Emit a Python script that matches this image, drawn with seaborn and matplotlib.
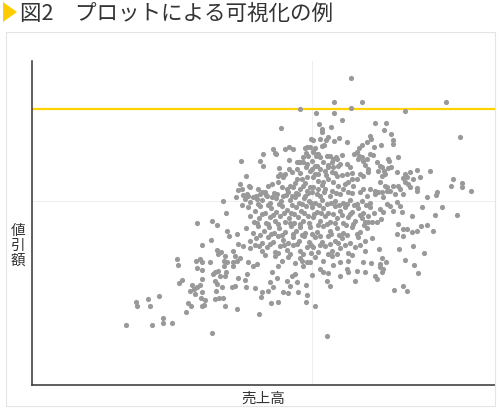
import matplotlib
matplotlib.use("Agg")
import matplotlib.pyplot as plt
from matplotlib.patches import Polygon, Rectangle
import pandas as pd
import seaborn as sns

# (sales, discount) pairs, grouped by region of the cloud
top_pts = [
    (351, 321), (334, 297), (362, 297), (446, 297), (300, 290), (316, 286), (334, 286), (351, 291),
    (405, 288), (281, 271), (342, 279), (319, 275), (322, 270), (322, 267), (331, 272), (375, 276),
    (386, 276), (384, 269), (391, 265), (460, 262), (311, 260), (313, 259), (320, 260), (326, 259),
    (328, 262), (334, 258), (339, 261), (347, 257), (370, 263), (371, 260), (367, 257), (362, 254),
    (359, 251), (374, 252), (381, 254), (393, 259), (393, 255),
]
upper_left_pts = [
    (241, 238), (263, 245), (260, 238), (263, 233), (273, 250), (276, 245), (285, 250), (289, 252),
    (293, 250), (275, 246), (246, 223), (289, 239), (279, 231), (280, 225), (285, 225), (289, 230),
    (297, 230), (240, 215), (249, 213), (238, 209), (236, 202), (243, 204), (248, 203), (253, 202),
    (257, 200), (223, 198), (242, 194), (226, 186), (197, 176), (212, 178), (217, 174),
    (297, 237), (300, 237), (303, 237), (250, 212), (242, 210), (247, 205), (258, 210), (260, 205),
    (265, 207), (268, 213), (272, 215), (278, 217), (282, 212), (287, 210), (290, 213), (293, 212),
    (300, 210), (303, 213), (307, 208), (310, 212), (278, 223), (283, 222), (297, 220), (302, 220),
    (307, 222), (318, 225), (310, 228), (277, 205), (283, 203), (292, 203), (298, 205), (305, 203),
    (317, 205), (267, 203), (272, 202),
]
upper_mid_pts = [
    (305, 251), (310, 252), (313, 247), (316, 243), (322, 253), (324, 254), (303, 242), (308, 243),
    (299, 237), (307, 235), (312, 238), (317, 233), (330, 243), (333, 240), (336, 242), (342, 244),
    (323, 237), (328, 234), (333, 232), (338, 233), (354, 245), (359, 243), (363, 238), (365, 234),
    (368, 230), (373, 244), (377, 237), (382, 232), (384, 228), (389, 238), (391, 232), (357, 247),
    (370, 245), (367, 240), (368, 227), (362, 242), (358, 240), (380, 233), (378, 228), (382, 223),
    (385, 225), (388, 231), (388, 240), (347, 235), (350, 232), (347, 225), (352, 220), (348, 217),
    (353, 213), (357, 220), (360, 225), (363, 223), (337, 240), (332, 237), (340, 235), (313, 248),
    (317, 245), (320, 242), (327, 243), (315, 233), (320, 230), (325, 228), (328, 232), (332, 227),
    (337, 223), (313, 222), (318, 218), (323, 217), (328, 220), (333, 217), (338, 213), (343, 210),
    (332, 208), (325, 210), (318, 210), (313, 212), (312, 207), (320, 203), (330, 203), (340, 205),
    (348, 207), (363, 210), (370, 210), (367, 203), (375, 205), (382, 207), (306, 246), (307, 252),
    (315, 251), (318, 245), (306, 232), (312, 230),
]
right_pts = [
    (398, 242), (397, 227), (405, 225), (410, 227), (417, 229), (420, 222), (430, 228), (407, 222),
    (413, 220), (453, 220), (451, 213), (462, 216), (462, 212), (471, 208), (437, 207), (436, 204),
    (427, 202), (417, 211), (417, 208), (410, 212), (398, 213), (393, 213), (390, 208), (395, 205),
    (403, 205), (380, 217), (387, 212), (378, 207), (383, 202), (375, 208), (397, 197), (400, 193),
    (402, 187), (393, 188), (390, 193), (387, 195), (422, 192), (412, 183), (435, 184), (442, 192),
    (457, 184), (421, 173), (427, 174), (407, 170), (380, 190), (383, 187), (381, 180), (377, 177),
    (372, 177), (368, 183), (365, 177), (398, 175), (403, 221), (408, 215), (405, 217), (400, 210),
    (385, 213), (387, 208), (412, 167), (417, 168), (433, 168), (397, 165), (403, 163), (403, 170),
    (413, 153), (424, 146), (405, 139), (414, 134), (418, 126), (399, 150), (394, 109), (403, 113),
    (407, 108),
]
lower_mid_pts = [
    (379, 150), (382, 141), (386, 137), (380, 135), (380, 132), (383, 130), (382, 127), (375, 123),
    (377, 120), (363, 137), (371, 136), (365, 127), (357, 128), (355, 118), (340, 123), (348, 138),
    (347, 130), (348, 127), (333, 134), (328, 126), (327, 118), (330, 113), (320, 130), (323, 127),
    (312, 124), (306, 114), (307, 104), (306, 97), (315, 93), (327, 63), (297, 117), (298, 107),
    (290, 113), (288, 106), (283, 107), (295, 125), (292, 123), (287, 118), (303, 133), (302, 138),
    (310, 137),
]
left_tail_pts = [
    (227, 168), (229, 163), (237, 165), (238, 155), (243, 153), (211, 159), (202, 154), (217, 149),
    (218, 145), (221, 147), (225, 143), (224, 138), (227, 137), (233, 148), (235, 143), (237, 138),
    (240, 141), (177, 140), (178, 134), (196, 138), (200, 140), (202, 137), (197, 131), (202, 129),
    (210, 137), (215, 127), (213, 125), (218, 128), (220, 123), (225, 123), (226, 127), (224, 133),
    (233, 133), (233, 137), (248, 137), (253, 133), (257, 135), (247, 125), (238, 121), (245, 119),
    (202, 120), (215, 118), (217, 115), (182, 119), (179, 116), (192, 114), (194, 110), (197, 112),
    (200, 114), (216, 108), (222, 112), (232, 112), (235, 113), (246, 112), (255, 111), (262, 107),
    (268, 108), (261, 102), (190, 108), (195, 105), (202, 107), (201, 101), (205, 99), (215, 100),
    (219, 101), (223, 101), (159, 103), (148, 100), (150, 93), (136, 97), (137, 93), (188, 96),
    (191, 93), (186, 87), (202, 93), (204, 94), (225, 93), (237, 90), (271, 96), (278, 97),
    (259, 85), (163, 81), (163, 76), (172, 76), (126, 74), (152, 74), (212, 66),
]
core_left_pts = [
    (245, 200), (250, 197), (256, 203), (262, 199), (266, 204), (270, 196), (276, 201), (281, 198),
    (286, 204), (290, 199), (295, 202), (299, 196), (304, 201), (309, 198),
    (248, 192), (255, 188), (260, 193), (265, 186), (271, 191), (276, 187), (282, 193), (287, 189),
    (291, 186), (296, 192), (301, 188), (306, 193),
    (250, 183), (254, 177), (259, 181), (266, 176), (270, 182), (275, 178), (280, 183), (285, 177),
    (289, 181), (294, 176), (298, 182), (303, 178), (308, 183),
    (246, 171), (253, 166), (258, 173), (264, 168), (269, 172), (274, 166), (279, 171), (285, 167),
    (291, 173), (296, 168), (300, 172), (305, 166),
    (250, 158), (256, 161), (262, 156), (268, 162), (273, 157), (278, 163), (283, 159), (288, 156),
    (293, 162), (299, 158), (304, 163), (309, 157),
    (250, 151), (255, 154), (262, 148), (267, 152), (275, 147), (280, 153), (287, 149), (293, 154),
    (300, 148), (307, 152),
    (275, 143), (282, 138), (288, 142), (295, 136), (300, 141), (307, 137),
    (272, 127), (278, 133), (270, 117), (277, 121), (273, 112),
]
core_right_pts = [
    (315, 196), (322, 199), (327, 195), (335, 198), (343, 196), (350, 199), (357, 195), (362, 198),
    (370, 196),
    (312, 192), (317, 187), (323, 191), (328, 186), (335, 193), (340, 188), (345, 192), (352, 187),
    (358, 191), (363, 186), (370, 192),
    (313, 182), (320, 178), (325, 183), (330, 177), (337, 181), (343, 176), (348, 182), (355, 178),
    (362, 181), (368, 177),
    (310, 172), (317, 167), (323, 173), (330, 168), (337, 171), (343, 166), (352, 172), (360, 167),
    (367, 171),
    (315, 162), (322, 157), (328, 163), (335, 158), (342, 161), (350, 156), (358, 162), (365, 158),
    (372, 161),
    (313, 152), (318, 147), (325, 153), (332, 148), (340, 151), (348, 146), (355, 152), (365, 148),
    (315, 142), (323, 138), (332, 143), (340, 137),
]
# the densest middle of the cloud, where the dots overlap
core_fill_pts = [
    (262, 207), (274, 206), (288, 207), (296, 206), (308, 206), (324, 207), (336, 206), (352, 206),
    (360, 207),
    (258, 195), (268, 194), (279, 195), (292, 194), (302, 195), (311, 196), (319, 194), (331, 196),
    (339, 194), (347, 195), (354, 194), (366, 194),
    (262, 185), (273, 184), (284, 186), (294, 185), (304, 186), (314, 185), (321, 186), (333, 185),
    (342, 184), (350, 185), (360, 184), (374, 186),
    (257, 176), (268, 175), (278, 175), (290, 176), (300, 175), (309, 176), (318, 174), (327, 175),
    (335, 176), (346, 174), (353, 175), (364, 174),
    (260, 164), (271, 165), (282, 164), (293, 165), (302, 164), (312, 165), (320, 163), (331, 165),
    (339, 164), (347, 164), (357, 165),
    (259, 153), (270, 155), (284, 154), (297, 155), (311, 154), (320, 154), (330, 155), (338, 156),
    (345, 154), (360, 154),
    (265, 144), (278, 146), (290, 145), (303, 145), (311, 146), (328, 145), (337, 145), (352, 144),
    (292, 227), (300, 226), (315, 225), (326, 224), (335, 226), (342, 224), (352, 226), (295, 216),
    (305, 216), (322, 214), (345, 215),
]

threshold = 290          # yellow reference line
x_grid, y_grid = 312, 198
x_range = (32, 495)
y_range = (14, 338)

title = "図2　プロットによる可視化の例"
xlabel = "売上高"
ylabel = "値\n引\n額"

sns.set_theme(style="white")
plt.rcParams["font.family"] = ["Noto Sans CJK JP", "DejaVu Sans"]

all_pts = (top_pts + upper_left_pts + upper_mid_pts + right_pts + lower_mid_pts
           + left_tail_pts + core_left_pts + core_right_pts + core_fill_pts)
df = pd.DataFrame(all_pts, columns=["sales", "discount"])

W, H = 500, 410
fig = plt.figure(figsize=(W / 100, H / 100), dpi=100)
fig.patch.set_facecolor("white")

# light frame around the panel
fig.patches.append(Rectangle((6 / W, 3 / H), 489 / W, 374 / H, transform=fig.transFigure,
                             fill=False, edgecolor="#e4e4e4", linewidth=0.8))
# yellow triangle marker before the title
fig.patches.append(Polygon([(3 / W, 1 - 3 / H), (17 / W, 1 - 13 / H), (3 / W, 1 - 23 / H)],
                           closed=True, transform=fig.transFigure,
                           facecolor="#FFCC00", edgecolor="none"))
fig.text(20 / W, 1 - 13.5 / H, title, fontsize=15.5, color="#333333", va="center", ha="left")

ax = fig.add_axes([32 / W, 24 / H, 463 / W, 324 / H])
sns.scatterplot(data=df, x="sales", y="discount", ax=ax, color="#999999", s=14,
                linewidth=0, alpha=1, zorder=3)
ax.axhline(threshold, color="#FFD200", linewidth=1.6, zorder=2)

ax.set_xlim(*x_range)
ax.set_ylim(*y_range)
ax.set_xticks([x_grid])
ax.set_yticks([y_grid])
ax.grid(True, color="#efefef", linewidth=0.8)
ax.tick_params(length=0, labelbottom=False, labelleft=False)
for side in ["top", "right"]:
    ax.spines[side].set_visible(False)
for side in ["left", "bottom"]:
    ax.spines[side].set_color("#333333")
    ax.spines[side].set_linewidth(1.1)

ax.set_xlabel(xlabel, fontsize=10.5, color="#333333", va="center")
ax.xaxis.set_label_coords(0.5, -0.04)
ax.set_ylabel(ylabel, fontsize=10.5, color="#333333", rotation=0, va="center", ha="center",
              linespacing=1.05)
ax.yaxis.set_label_coords(-0.03, 0.432)

fig.savefig("out.png", dpi=100, facecolor="white")
plt.close()
